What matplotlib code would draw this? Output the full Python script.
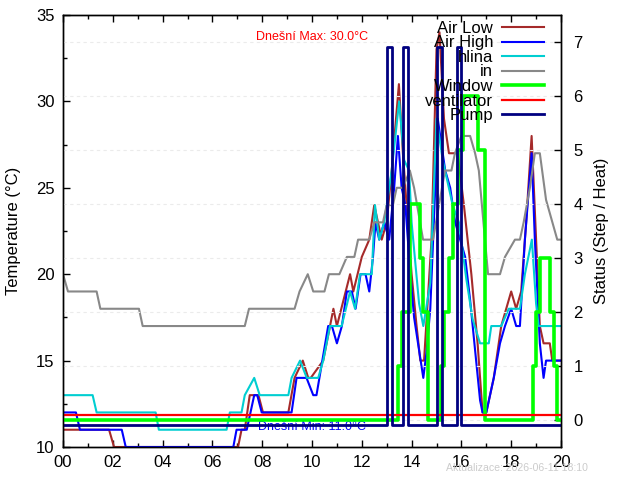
import matplotlib
matplotlib.use("Agg")
import matplotlib.pyplot as plt
from matplotlib.ticker import MultipleLocator

# Teploty (hodiny, °C) - body
air_low_t = [0, 1.85, 2.05, 7.03, 7.17, 7.3, 7.5, 7.85, 8.03, 9.05, 9.3, 9.63, 9.85, 9.95,
             10.45, 10.86, 11.0, 11.53, 11.66, 12.0, 12.3, 12.5, 12.65, 12.8, 13.0, 13.2,
             13.49, 13.65, 13.8, 14.0, 14.2, 14.35, 14.5, 14.8, 15.0, 15.12, 15.3, 15.5,
             15.85, 16.1, 16.4, 16.65, 16.85, 17.0, 17.3, 17.6, 17.8, 18.0, 18.2, 18.4,
             18.6, 18.82, 19.0, 19.15, 19.3, 19.55, 19.65, 20]
air_low_v = [11, 11, 10, 10, 11, 11, 13, 13, 12, 12, 14, 15, 14, 14,
             15, 18, 17, 20, 19, 21, 22, 24, 23, 22, 23, 26,
             31, 27, 24, 20, 17, 15, 15, 22, 33, 34, 29, 27,
             27, 24, 20, 16, 12, 12, 14, 17, 18, 19, 18, 19,
             23, 28, 22, 17, 16, 16, 15, 15]

air_high_t = [0, 0.52, 0.68, 2.36, 2.52, 6.84, 6.97, 7.38, 7.68, 7.8, 7.98, 9.18, 9.38,
              9.78, 10.05, 10.18, 10.65, 10.8, 11.0, 11.2, 11.4, 11.6, 11.75, 11.95, 12.15,
              12.3, 12.45, 12.55, 12.7, 12.9, 13.1, 13.3, 13.45, 13.6, 13.75, 13.95, 14.1,
              14.3, 14.47, 14.6, 14.75, 14.95, 15.05, 15.15, 15.35, 15.55, 15.75, 16.15,
              16.35, 16.55, 16.75, 16.85, 17.0, 17.3, 17.55, 17.75, 18.0, 18.2, 18.35,
              18.55, 18.82, 18.95, 19.15, 19.3, 19.4, 20]
air_high_v = [12, 12, 11, 11, 10, 10, 11, 11, 13, 13, 12, 12, 14,
              14, 13, 13, 17, 17, 16, 17, 19, 19, 18, 20, 20,
              19, 21, 23, 22, 23, 22, 25, 28, 25, 24, 20, 17.5,
              15.6, 14, 15.5, 18, 25, 29, 28, 26, 25, 23, 21,
              18.5, 15.6, 12.7, 12, 12, 14, 16, 17, 18, 17, 17,
              22, 27, 22, 16, 14, 15, 15]

hlina_t = [0, 1.19, 1.35, 3.72, 3.85, 6.57, 6.7, 7.17, 7.3, 7.68, 7.9, 9.05, 9.18, 9.52,
           9.79, 10.25, 10.45, 10.72, 11.19, 11.53, 11.73, 11.93, 12.4, 12.53, 12.7, 12.9,
           13.2, 13.5, 13.7, 13.9, 14.0, 14.3, 14.47, 14.75, 15.0, 15.25, 15.65, 15.9,
           16.2, 16.45, 16.75, 17.1, 17.2, 17.6, 17.9, 18.35, 18.55, 18.83, 19.0, 19.1, 20]
hlina_v = [13, 13, 12, 12, 11, 11, 12, 12, 13, 14, 13, 13, 14, 15,
           14, 14, 15, 17, 17, 19, 18, 20, 20, 24, 22, 23,
           26, 30, 26.6, 26, 23, 18.3, 17, 19.5, 29, 26.6, 24, 23,
           19.7, 17.4, 16, 16, 17, 17, 18, 18, 20, 22, 18.3, 17, 17]

in_t = [0, 0.2, 1.35, 1.5, 3.05, 3.2, 7.3, 7.47, 9.3, 9.5, 9.83, 10.05, 10.5, 10.68, 11.1,
        11.4, 11.7, 11.85, 12.3, 12.5, 12.85, 13.0, 13.25, 13.4, 13.65, 13.93, 14.1, 14.46,
        14.86, 15.1, 15.34, 15.6, 15.74, 16.0, 16.35, 16.55, 16.7, 17.07, 17.55, 17.75,
        18.15, 18.35, 18.5, 18.75, 18.95, 19.15, 19.4, 19.85, 20]
in_v = [20, 19, 19, 18, 18, 17, 17, 18, 18, 19, 20, 19, 19, 20, 20,
        21, 21, 22, 22, 23, 23, 24, 24, 25, 25, 26, 25, 22,
        22, 24, 26, 26, 27, 28, 28, 27, 26, 20, 20, 21,
        22, 22, 23, 25, 27, 27, 24.3, 22, 22]

# Stavy (pravá osa)
window_t = [0, 13.47, 13.6, 13.73, 13.95, 14.33, 14.45, 14.65, 15.2, 15.3, 15.5, 15.65,
            15.85, 16.05, 16.68, 16.95, 18.86, 19.0, 19.15, 19.56, 19.73, 19.82, 20]
window_v = [0, 1, 2, 2, 4, 3, 2, 0, 1, 2, 3, 4,
            5, 6, 5, 0, 1, 2, 3, 2, 1, 0, 0]

vent_t = [0, 20]
vent_v = [0, 0]

pump_t = [0, 13.0, 13.2, 13.67, 13.87, 15.03, 15.21, 15.81, 16.0, 20]
pump_v = [0, 7, 0, 7, 0, 7, 0, 7, 0, 0]

hour_labels = ["00", "02", "04", "06", "08", "10", "12", "14", "16", "18", "20"]
max_text = "Dnešní Max: 30.0°C"
min_text = "Dnešní Min: 11.0°C"
update_text = "Aktualizace: 2026-06-11 18:10"

# posun čar stavu, aby se nepřekrývaly
VENT_SHIFT = 0.1
PUMP_SHIFT = -0.1

plt.rcParams['font.family'] = ['Liberation Sans', 'DejaVu Sans']
plt.rcParams['font.size'] = 12

fig = plt.figure(figsize=(6.4, 4.8), dpi=100)
ax = fig.add_axes([63 / 640, 1 - 447 / 480, 498 / 640, 432 / 480])
ax2 = ax.twinx()

l1, = ax.plot(air_low_t, air_low_v, color='#a52a2a', lw=1.5, label='Air Low')
l2, = ax.plot(air_high_t, air_high_v, color='#0000ff', lw=1.5, label='Air High')
l3, = ax.plot(hlina_t, hlina_v, color='#00ced1', lw=1.5, label='hlina')
l4, = ax.plot(in_t, in_v, color='#888888', lw=1.5, label='in')

l5, = ax2.plot(window_t, window_v, color='#00ff00', lw=2.6, drawstyle='steps-post', label='Window')
l6, = ax2.plot(vent_t, [v + VENT_SHIFT for v in vent_v], color='#ff0000', lw=1.6,
               drawstyle='steps-post', label='ventilator')
l7, = ax2.plot(pump_t, [v + PUMP_SHIFT for v in pump_v], color='#000080', lw=2,
               drawstyle='steps-post', label='Pump')

ax.set_xlim(0, 20)
ax.set_ylim(10, 35)
ax2.set_ylim(-0.5, 7.5)

ax.set_xticks(range(0, 21, 2))
ax.set_xticklabels(hour_labels)
ax.xaxis.set_minor_locator(MultipleLocator(1))
ax.set_yticks(range(10, 36, 5))
ax.yaxis.set_minor_locator(MultipleLocator(2.5))
ax2.set_yticks(range(0, 8))

ax.tick_params(which='both', direction='in', top=True, right=False)
ax.tick_params(which='major', length=5, width=1)
ax.tick_params(which='minor', length=3, width=1)
ax.tick_params(axis='x', pad=6)
ax.tick_params(axis='y', pad=6)
ax2.tick_params(direction='in', length=5, width=1, pad=9)

for a in (ax, ax2):
    for s in a.spines.values():
        s.set_linewidth(1)

ax2.grid(axis='y', color='#ebebeb', linestyle=(0, (3, 3)), lw=0.8)

ax.set_ylabel("Temperature (°C)")
ax2.set_ylabel("Status (Step / Heat)")
ax.yaxis.set_label_coords(-0.084, 0.5)
ax2.yaxis.set_label_coords(1.066, 0.5)

ax.text(0.5, 0.949, max_text, transform=ax.transAxes, color='red', fontsize=9,
        ha='center', va='center')
ax.text(0.5, 0.046, min_text, transform=ax.transAxes, color='blue', fontsize=9,
        ha='center', va='center')
fig.text(588 / 640, 1 - 468 / 480, update_text, color='#cccccc', fontsize=7.6,
         ha='right', va='center')

ax2.legend([l1, l2, l3, l4, l5, l6, l7],
           ['Air Low', 'Air High', 'hlina', 'in', 'Window', 'ventilator', 'Pump'],
           loc='upper right', bbox_to_anchor=(544 / 640, 1 - 21 / 480),
           bbox_transform=fig.transFigure, frameon=False, markerfirst=False,
           handlelength=2.55, handletextpad=0.5, labelspacing=-0.03,
           borderpad=0, borderaxespad=0, fontsize=12)

fig.savefig("out.png", dpi=100)
